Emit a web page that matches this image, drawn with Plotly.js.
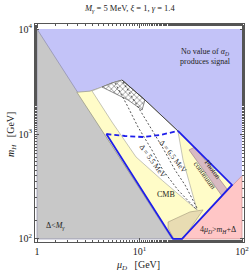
<!DOCTYPE html>
<html><head><meta charset="utf-8">
<script src="https://cdn.plot.ly/plotly-3.0.1.min.js"></script>
<style>html,body{margin:0;padding:0;background:#fff}#plot{width:250px;height:272px}</style>
</head><body><div id="plot"></div>
<script>
// region boundaries (muD [GeV], mH [GeV])
const frameMuD = [1, 100, 100, 1, 1];
const frameMH = [100, 100, 10000, 10000, 100];
const grayMuD = [1, 1, 20.7, 1];
const grayMH = [10000, 100, 100, 10000];
const pinkMuD = [25, 100, 100, 25];
const pinkMH = [100, 400, 100, 100];
const allowedMuD = [2.45, 3.29, 4.31, 5.39, 6.75, 11.3, 23.7, 79.9, 26.0, 21.2, 2.45];
const allowedMH = [2500, 2560, 2804, 3061, 3266, 2109, 1069, 327, 100, 100, 2500];
const whiteMuD = [3.44, 4.31, 5.39, 6.75, 11.3, 23.7, 26.6, 31.1, 36.4, 16.9, 9.25, 5.39, 3.44];
const whiteMH = [2570, 2804, 3061, 3266, 2109, 1069, 565, 327, 189, 357, 604, 1300, 2570];
const hatchMuD = [4.31, 5.39, 6.75, 11.3, 10.6, 7.73, 4.31];
const hatchMH = [2804, 3061, 3266, 2109, 1693, 2109, 2804];
const khakiMuD = [19.0, 31.1, 41.7, 26.6, 21.7, 19.0, 19.0];
const khakiMH = [145, 181, 189, 100, 100, 127, 145];
const photonMuD = [30.4, 34.8, 71.4, 63.8, 30.4];
const photonMH = [705, 752, 299, 257, 705];
const blueMuD = [4.75, 21.2, 26.0, 79.9, 23.7];
const blueMH = [1000, 100, 100, 327, 1069];
const dashMuD = [4.75, 7.22, 10.8, 15.85, 23.7];
const dashMH = [1000, 957, 936, 978, 1069];
const d55MuD = [5.77, 7.55, 9.67, 13.2, 16.9, 23.7, 35.6];
const d55MH = [3061, 1888, 1166, 705, 454, 293, 193];
const d65MuD = [6.90, 9.45, 12.65, 16.9, 22.2, 27.8, 36.4];
const d65MH = [3126, 1888, 1166, 736, 454, 327, 197];
const xTickVals = [1, 10, 100];
const xTickText = ['1', '10<sup>1</sup>', '10<sup>2</sup>'];
const yTickVals = [100, 1000, 10000];
const yTickText = ['10<sup>2</sup>', '10<sup>3</sup>', '10<sup>4</sup>'];

function poly(x, y, fill, line, lw, extra) {
  return Object.assign({type: 'scatter', mode: 'lines', x: x, y: y, fill: 'toself',
    fillcolor: fill, line: {color: line, width: lw}, hoverinfo: 'skip', showlegend: false}, extra || {});
}
function ln(x, y, color, w, dash) {
  return {type: 'scatter', mode: 'lines', x: x, y: y, line: {color: color, width: w, dash: dash},
    hoverinfo: 'skip', showlegend: false};
}
const traces = [
  poly(frameMuD, frameMH, 'rgb(195,195,248)', 'rgba(0,0,0,0)', 0),
  poly(grayMuD, grayMH, 'rgb(200,200,200)', 'rgb(140,140,170)', 0.7),
  poly(pinkMuD, pinkMH, 'rgb(255,198,198)', 'rgb(200,140,140)', 0.7),
  poly(allowedMuD, allowedMH, 'rgb(255,252,200)', 'rgb(150,150,130)', 0.7),
  poly(whiteMuD, whiteMH, 'rgb(255,255,255)', 'rgb(160,160,150)', 0.6),
  poly(khakiMuD, khakiMH, 'rgb(232,220,178)', 'rgb(160,150,120)', 0.6),
  poly(photonMuD, photonMH, 'rgb(216,186,194)', 'rgb(150,120,130)', 0.6),
  poly(hatchMuD, hatchMH, 'rgb(255,255,255)', 'rgb(90,90,90)', 0.7,
    {fillpattern: {shape: 'x', size: 4, solidity: 0.25, fgcolor: 'rgb(90,90,90)', bgcolor: 'rgb(255,255,255)'}}),
  ln(allowedMuD.slice(4, 7), allowedMH.slice(4, 7), 'rgb(40,40,40)', 0.8, 'solid'),
  ln(d55MuD, d55MH, 'rgb(40,40,40)', 0.8, '2px,2px'),
  ln(d65MuD, d65MH, 'rgb(40,40,40)', 0.8, '2px,2px'),
  ln(blueMuD, blueMH, 'rgb(30,30,235)', 1.8, 'solid'),
  ln(dashMuD, dashMH, 'rgb(30,30,235)', 1.8, '5px,3px')
];
const F = 'Liberation Serif, Times New Roman, serif';
function ann(text, x, y, size, angle) {
  return {text: text, x: x, y: y, xref: 'paper', yref: 'paper', showarrow: false,
    font: {family: F, size: size, color: '#222'}, textangle: angle || 0, xanchor: 'center', yanchor: 'middle'};
}
const axisCommon = {type: 'log', showgrid: false, zeroline: false, showline: true, linecolor: '#555', linewidth: 1,
  mirror: 'allticks', ticks: 'inside', ticklen: 4, tickcolor: '#555', tickfont: {family: F, size: 10, color: '#222'},
  minor: {ticks: 'inside', ticklen: 2, tickcolor: '#555', showgrid: false}};
const layout = {
  width: 250, height: 272, margin: {l: 35, r: 6, t: 24, b: 30},
  paper_bgcolor: '#fff', plot_bgcolor: '#fff',
  xaxis: Object.assign({}, axisCommon, {range: [-0.0195, 2.0195], tickvals: xTickVals, ticktext: xTickText}),
  yaxis: Object.assign({}, axisCommon, {range: [1.971, 4.048], tickvals: yTickVals, ticktext: yTickText}),
  annotations: [
    ann('<i>M</i><sub><i>γ</i></sub> = 5 MeV, <i>ξ</i> = 1, <i>γ</i> = 1.4', 0.45, 1.069, 8.5),
    ann('No value of <i>α</i><sub><i>D</i></sub><br>produces signal', 0.818, 0.849, 8),
    ann('CMB', 0.627, 0.216, 8),
    ann('Photon<br>continuum', 0.832, 0.321, 7.5, 54),
    ann('4<i>μ</i><sub><i>D</i></sub>><i>m</i><sub><i>H</i></sub>+Δ', 0.876, 0.055, 8),
    ann('Δ<<i>M</i><sub><i>γ</i></sub>', 0.100, 0.073, 8),
    ann('Δ = 5.5 MeV', 0.565, 0.370, 7.5, 54),
    ann('Δ = 6.5 MeV', 0.660, 0.390, 7.5, 52),
    ann('<i>μ</i><sub><i>D</i></sub>   [GeV]', 0.493, -0.106, 10),
    ann('<i>m</i><sub><i>H</i></sub>   [GeV]', -0.110, 0.491, 10, -90)
  ]
};
Plotly.newPlot('plot', traces, layout, {staticPlot: true, displayModeBar: false});
</script></body></html>
